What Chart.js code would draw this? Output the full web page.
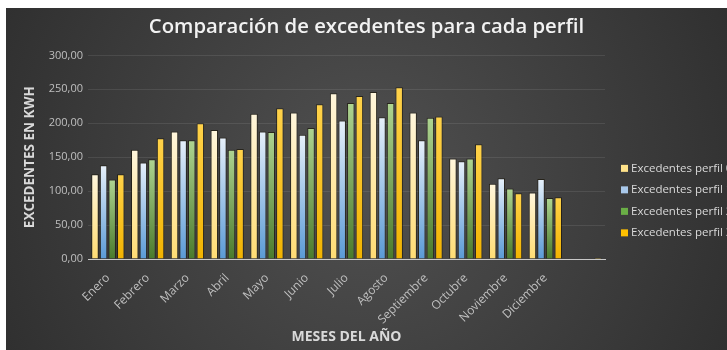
<!DOCTYPE html>
<html>
<head>
<meta charset="utf-8">
<script src="https://cdn.jsdelivr.net/npm/chart.js@4"></script>
<style>
  html, body { margin: 0; padding: 0; background: #ffffff; overflow: hidden; }
  #wrap { position: absolute; left: 6px; top: 8px; width: 721px; height: 342px; }
</style>
</head>
<body>
<div id="wrap"><canvas id="c" width="721" height="342"></canvas></div>
<script>
// Monthly surplus energy (kWh) for each consumption profile
const meses = ['Enero', 'Febrero', 'Marzo', 'Abril', 'Mayo', 'Junio', 'Julio',
               'Agosto', 'Septiembre', 'Octubre', 'Noviembre', 'Diciembre', ''];
const perfil0 = [125, 161, 188, 190, 214, 216, 244, 246, 216, 148, 111, 98, null];
const perfil1 = [138, 142, 175, 179, 188, 183, 204, 209, 175, 144, 119, 118, null];
const perfil2 = [117, 147, 175, 161, 187, 193, 230, 230, 208, 148, 104, 90, null];
const perfil3 = [125, 178, 200, 162, 222, 228, 240, 253, 210, 169, 97, 91, 2];
const nombres = ['Excedentes perfil 0', 'Excedentes perfil 1', 'Excedentes perfil 2', 'Excedentes perfil 3'];
const yTicks = [0, 50, 100, 150, 200, 250, 300];

const FONT = "'Open Sans', 'Liberation Sans', sans-serif";

// vertical gradient running from the top of each bar down to its base
function barFill(top, bottom) {
  return (ctx) => {
    const chart = ctx.chart;
    if (!chart.chartArea || ctx.type !== 'data' || ctx.raw == null) return bottom;
    const y = chart.scales.y;
    const yTop = y.getPixelForValue(ctx.raw);
    const yBase = y.getPixelForValue(0);
    if (yBase - yTop < 2) return top;
    const g = chart.ctx.createLinearGradient(0, yTop, 0, yBase);
    g.addColorStop(0, top);
    g.addColorStop(1, bottom);
    return g;
  };
}

const series = [
  { label: nombres[0], data: perfil0, top: '#FFF6DC', bottom: '#FFDC73', swatch: '#FFE38A' },
  { label: nombres[1], data: perfil1, top: '#E6F0FA', bottom: '#5A9AD6', swatch: '#A9C8EA' },
  { label: nombres[2], data: perfil2, top: '#AED491', bottom: '#4A7A2C', swatch: '#6AAE46' },
  { label: nombres[3], data: perfil3, top: '#FFD24A', bottom: '#F2B300', swatch: '#FFC000' }
];

// dark panel with a soft radial light in the middle
const fondo = {
  id: 'fondo',
  beforeDraw(chart) {
    const { ctx, width, height } = chart;
    const g = ctx.createRadialGradient(width * 0.5, height * 0.5, 20, width * 0.5, height * 0.5, width * 0.62);
    g.addColorStop(0, '#4f4f4f');
    g.addColorStop(1, '#2c2c2c');
    ctx.save();
    ctx.fillStyle = g;
    ctx.fillRect(0, 0, width, height);
    ctx.restore();
  }
};

// legend listed to the right of the plot
const leyenda = {
  id: 'leyenda',
  afterDraw(chart) {
    const { ctx, chartArea } = chart;
    const x0 = chartArea.right + 16;
    const y0 = chartArea.top + 113;
    ctx.save();
    ctx.font = '11.5px ' + FONT;
    ctx.textBaseline = 'middle';
    ctx.textAlign = 'left';
    chart.data.datasets.forEach((ds, i) => {
      const y = y0 + i * 21.5;
      ctx.fillStyle = ds.swatch;
      ctx.fillRect(x0, y - 3.5, 7, 7);
      ctx.fillStyle = '#d9d9d9';
      ctx.fillText(ds.label, x0 + 10, y);
    });
    ctx.restore();
  }
};

new Chart(document.getElementById('c'), {
  type: 'bar',
  data: {
    labels: meses,
    datasets: series.map(s => ({
      label: s.label,
      data: s.data,
      swatch: s.swatch,
      backgroundColor: barFill(s.top, s.bottom),
      borderColor: 'rgba(20,15,0,0.6)',
      borderWidth: 1,
      categoryPercentage: 0.865,
      barPercentage: 0.87
    }))
  },
  options: {
    responsive: false,
    animation: false,
    layout: { padding: 0 },
    plugins: {
      legend: { display: false },
      tooltip: { enabled: false },
      title: {
        display: true,
        text: 'Comparación de excedentes para cada perfil',
        color: '#f2f2f2',
        font: { family: FONT, size: 20.3, weight: '600' },
        padding: { top: 7, bottom: 16 }
      }
    },
    scales: {
      x: {
        grid: { display: false },
        border: { display: true, color: '#c8c8c8', width: 1 },
        ticks: {
          color: '#bfbfbf',
          font: { family: FONT, size: 12 },
          maxRotation: 45,
          minRotation: 45,
          autoSkip: false,
          padding: 4
        },
        title: {
          display: true,
          text: 'MESES DEL AÑO',
          color: '#d9d9d9',
          font: { family: FONT, size: 14, weight: 'bold' },
          padding: { top: 0, bottom: 5 }
        },
        afterFit(scale) { scale.height = 91; }
      },
      y: {
        min: 0,
        max: 300,
        afterBuildTicks(scale) { scale.ticks = yTicks.map(v => ({ value: v })); },
        grid: { color: 'rgba(255,255,255,0.09)', drawTicks: false },
        border: { display: false },
        ticks: {
          color: '#bfbfbf',
          font: { family: FONT, size: 11 },
          padding: 5,
          callback: (v) => Number(v).toFixed(2).replace('.', ',')
        },
        title: {
          display: true,
          text: 'EXCEDENTES EN KWH',
          color: '#d9d9d9',
          font: { family: FONT, size: 13.5, weight: 'bold' },
          padding: { top: 16, bottom: 0 }
        },
        afterFit(scale) { scale.width = 82; }
      },
      margen: {
        type: 'linear',
        position: 'right',
        display: true,
        grid: { display: false },
        border: { display: false },
        ticks: { display: false },
        afterFit(scale) { scale.width = 122; }
      }
    }
  },
  plugins: [fondo, leyenda]
});
</script>
</body>
</html>
